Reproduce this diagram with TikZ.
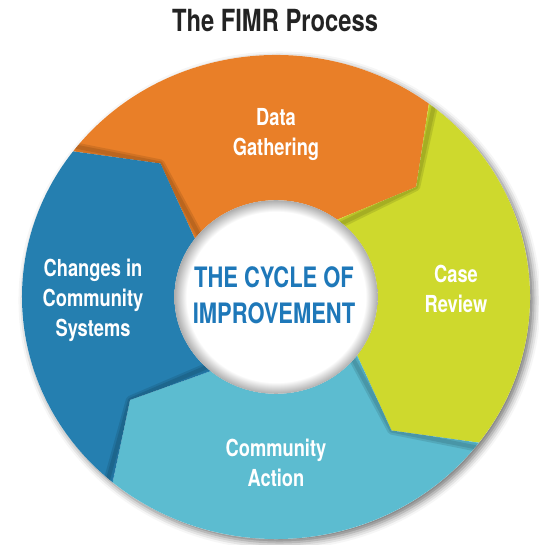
\documentclass[tikz,border=0pt]{standalone}
\usepackage{fontspec}
\newfontfamily\fimrfont[FakeStretch=0.78]{TeX Gyre Heros}
\usetikzlibrary{shadows.blur}
\definecolor{gatherorange}{RGB}{233,127,40}
\definecolor{reviewlime}{RGB}{206,217,45}
\definecolor{actioncyan}{RGB}{92,188,208}
\definecolor{changeblue}{RGB}{37,127,176}
\definecolor{cycleblue}{RGB}{30,120,185}
\definecolor{titlegray}{RGB}{35,35,35}
\pgfdeclareradialshading{hubglow}{\pgfpoint{0bp}{0bp}}%
{color(0bp)=(white); color(22bp)=(white); color(25bp)=(black!32); color(50bp)=(black!32)}
\newcommand{\ringarrow}[2]% tail angle, head angle
{(#1:1) arc[start angle=#1, end angle=#2, radius=1] -- (#2-13.5:0.715) -- (#2:0.4)
 arc[start angle=#2, end angle=#1, radius=0.4] -- (#1-13.5:0.715) -- cycle
}

\begin{document}
\begin{tikzpicture}[x=0.03cm,y=0.03cm,
	steplabel/.style={text=white, align=center, inner sep=0pt, font=\fimrfont\bfseries\fontsize{20}{25.6}\selectfont},
	hubtext/.style={text=cycleblue, align=center, inner sep=0pt, font=\fimrfont\bfseries\fontsize{24}{30.5}\selectfont},
	headshadow/.style={black, opacity=0.1, line join=round}]
	\useasboundingbox (-276,-248) rectangle (262,297);
	\node[inner sep=0pt, text=titlegray, font=\fimrfont\bfseries\fontsize{26}{30}\selectfont] (title) at (-1,276.5) {The FIMR Process};
	\begin{scope}[x=7.62cm,y=7.26cm]
		\fill[white, blur shadow={shadow xshift=3pt, shadow yshift=-3pt, shadow blur radius=6pt, shadow opacity=55}] (0,0) circle[radius=1];
		\fill[gatherorange] \ringarrow{143}{53};%data
		\fill[reviewlime] \ringarrow{53}{-37};%review
		\fill[actioncyan] \ringarrow{-37}{-130};%action
		\fill[changeblue] \ringarrow{230}{143};%changes
		% each head throws a soft shadow on the next arrow
		\foreach \h/\n in {53/-37,-37/-130,-130/-217,143/53}{
			\begin{scope}
				\clip \ringarrow{\h}{\n};
				\draw[headshadow, line width=7pt] (\h:1.05) -- (\h-13.5:0.715) -- (\h:0.35);
				\draw[headshadow, line width=3.5pt] (\h:1.05) -- (\h-13.5:0.715) -- (\h:0.35);
			\end{scope}
		}
		\shade[shading=hubglow] (0,0) circle[radius=0.4];
	\end{scope}
	\node[steplabel] (gather) at (0,162) {Data\\Gathering};
	\node[steplabel] (review) at (180,8) {Case\\Review};
	\node[steplabel] (action) at (0,-166) {Community\\Action};
	\node[steplabel] (changes) at (-183,-3) {Changes in\\Community\\Systems};
	\node[hubtext] (hub) at (-2,2) {THE CYCLE OF\\IMPROVEMENT};
\end{tikzpicture}
\end{document}
